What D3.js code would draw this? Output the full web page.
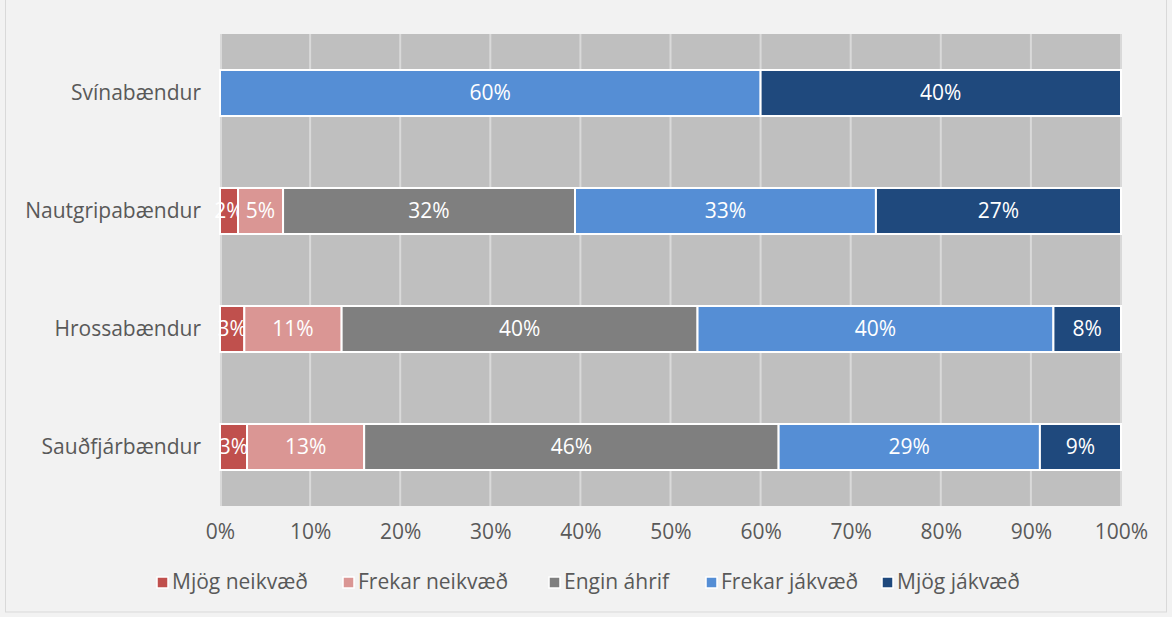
<!DOCTYPE html>
<html>
<head>
<meta charset="utf-8">
<script src="https://cdn.jsdelivr.net/npm/d3@7"></script>
<style>
  body { margin: 0; background: #f2f2f2; }
  svg text { font-family: "Open Sans", "Liberation Sans", sans-serif; }
</style>
</head>
<body>
<div id="chart"></div>
<script>
// categories top to bottom
var categories = ["Svínabændur", "Nautgripabændur", "Hrossabændur", "Sauðfjárbændur"];
var seriesNames = ["Mjög neikvæð", "Frekar neikvæð", "Engin áhrif", "Frekar jákvæð", "Mjög jákvæð"];
var seriesColors = ["#c0504d", "#da9694", "#7f7f7f", "#558ed5", "#1f497d"];
// share (%) per category, in series order
var mjogNeikvaed = [0, 2.0, 2.7, 3.0];
var frekarNeikvaed = [0, 5.0, 10.8, 13.0];
var enginAhrif = [0, 32.4, 39.5, 46.0];
var frekarJakvaed = [60, 33.4, 39.5, 29.0];
var mjogJakvaed = [40, 27.2, 7.5, 9.0];
var xTicks = [0, 10, 20, 30, 40, 50, 60, 70, 80, 90, 100];

var W = 1172, H = 617;
var margin = {left: 220, right: 51, top: 34, bottom: 111};
var fs = "21px";

var svg = d3.select("#chart").append("svg").attr("width", W).attr("height", H);
svg.append("rect").attr("x", 5.5).attr("y", -1).attr("width", W - 11).attr("height", H - 4)
	.attr("fill", "#f2f2f2").attr("stroke", "#d9d9d9");

var x = d3.scaleLinear().domain([0, 100]).range([margin.left, W - margin.right]);
var y = d3.scaleBand().domain(categories).range([margin.top, H - margin.bottom]).paddingInner(0.61).paddingOuter(0.305);

// plot area
svg.append("rect").attr("x", x(0)).attr("y", margin.top).attr("width", x(100) - x(0))
	.attr("height", H - margin.bottom - margin.top).attr("fill", "#bfbfbf");

svg.selectAll(".grid").data(xTicks).enter().append("line").attr("class", "grid")
	.attr("x1", function(d) { return x(d) + (d == 0 ? 1 : 0); })
	.attr("x2", function(d) { return x(d) + (d == 0 ? 1 : 0); })
	.attr("y1", margin.top).attr("y2", H - margin.bottom)
	.attr("stroke", "#d9d9d9").attr("stroke-width", 2);

// stack the series
var table = categories.map(function(c, i) {
	return {cat: c, s0: mjogNeikvaed[i], s1: frekarNeikvaed[i], s2: enginAhrif[i], s3: frekarJakvaed[i], s4: mjogJakvaed[i]};
});
var stack = d3.stack().keys(["s0", "s1", "s2", "s3", "s4"])(table);

var layers = svg.selectAll(".layer").data(stack).enter().append("g").attr("class", "layer")
	.attr("fill", function(d, i) { return seriesColors[i]; });

layers.selectAll("rect").data(function(d) { return d; }).enter().filter(function(d) { return d[1] - d[0] > 0; })
	.append("rect")
	.attr("x", function(d) { return x(d[0]); })
	.attr("width", function(d) { return x(d[1]) - x(d[0]); })
	.attr("y", function(d) { return y(d.data.cat); })
	.attr("height", y.bandwidth())
	.attr("stroke", "#ffffff").attr("stroke-width", 2);

layers.selectAll("text").data(function(d) { return d; }).enter().filter(function(d) { return d[1] - d[0] > 0; })
	.append("text")
	.attr("x", function(d) { return (x(d[0]) + x(d[1])) / 2; })
	.attr("y", function(d) { return y(d.data.cat) + y.bandwidth() / 2; })
	.attr("dy", "0.35em").attr("text-anchor", "middle")
	.attr("fill", "#ffffff").style("font-size", fs)
	.text(function(d) { return Math.round(d[1] - d[0]) + "%"; });

// category labels
svg.selectAll(".cat").data(categories).enter().append("text").attr("class", "cat")
	.attr("x", margin.left - 19).attr("y", function(d) { return y(d) + y.bandwidth() / 2; })
	.attr("dy", "0.35em").attr("text-anchor", "end")
	.attr("fill", "#595959").style("font-size", fs)
	.text(function(d) { return d; });

// x axis
var xAxis = d3.axisBottom(x).tickValues(xTicks).tickSize(0).tickPadding(18)
	.tickFormat(function(d) { return d + "%"; });
var ax = svg.append("g").attr("transform", "translate(0," + (H - margin.bottom) + ")").call(xAxis);
ax.select(".domain").remove();
ax.selectAll("text").attr("fill", "#595959").style("font-size", fs)
	.style("font-family", "'Open Sans', 'Liberation Sans', sans-serif");

// legend
var legendX = [157, 343, 549, 706, 882];
var lg = svg.selectAll(".leg").data(seriesNames).enter().append("g").attr("class", "leg")
	.attr("transform", function(d, i) { return "translate(" + legendX[i] + ",582)"; });
lg.append("rect").attr("x", 0).attr("y", -5).attr("width", 11).attr("height", 11)
	.attr("fill", function(d, i) { return seriesColors[i]; }).attr("stroke", "#ffffff").attr("stroke-width", 1.5);
lg.append("text").attr("x", 15).attr("y", 0).attr("dy", "0.35em")
	.attr("fill", "#595959").style("font-size", fs).text(function(d) { return d; });
</script>
</body>
</html>
